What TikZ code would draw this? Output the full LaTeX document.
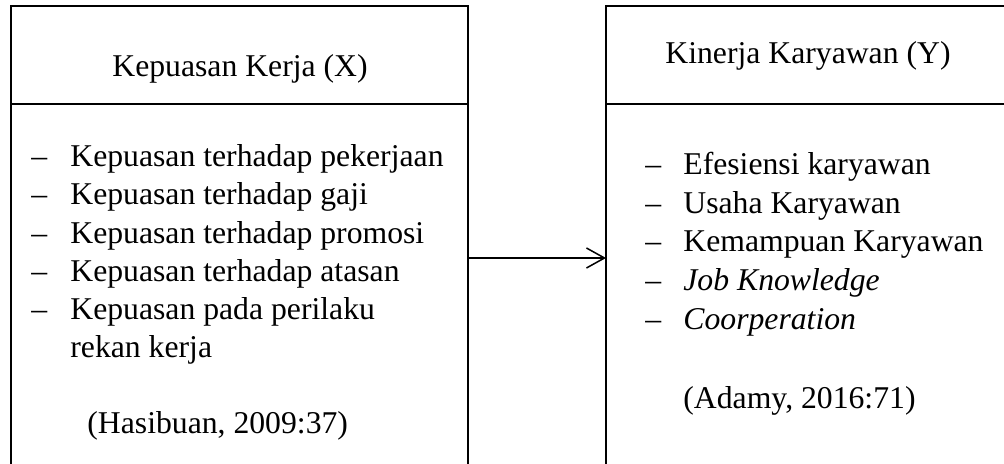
\documentclass[tikz,border=0pt]{standalone}
\usepackage{fontspec}
\setmainfont{Liberation Serif}
\usetikzlibrary{arrows.meta}
\begin{document}
\begin{tikzpicture}[x=0.5pt,y=-0.5pt,
  txt/.style={anchor=base west,inner sep=0pt,font=\fontsize{15.85}{17}\selectfont},
  boxline/.style={line width=0.75pt},
  conn/.style={line width=0.75pt,-{Straight Barb[length=9pt,width=10pt]}}]
\useasboundingbox (0,0) rectangle (1004,464);
% left box
\draw[boxline] (11,464) -- (11,6) -- (468,6) -- (468,464);
\draw[boxline] (11,104) -- (468,104);
% right box
\draw[boxline] (606,464) -- (606,6) -- (1004,6);
\draw[boxline] (606,104) -- (1004,104);
% headings
\node[txt] (hx) at (112,77) {Kepuasan Kerja (X)};
\node[txt] (hy) at (665,64) {Kinerja Karyawan (Y)};
% left items
\foreach \y/\t [count=\i] in {167/Kepuasan terhadap pekerjaan,205/Kepuasan terhadap gaji,243/Kepuasan terhadap promosi,281/Kepuasan terhadap atasan,319/Kepuasan pada perilaku}{
  \node[txt] (ld\i) at (31,\y) {--};
  \node[txt] (lt\i) at (70,\y) {\t};
}
\node[txt] (lt6) at (70,357) {rekan kerja};
\node[txt] (lref) at (87,433) {(Hasibuan, 2009:37)};
% right items
\node[txt] (rd1) at (645,175) {--};
\node[txt] (rt1) at (683,175) {Efesiensi karyawan};
\node[txt] (rd2) at (645,213.5) {--};
\node[txt] (rt2) at (683,213.5) {Usaha Karyawan};
\node[txt] (rd3) at (645,252) {--};
\node[txt] (rt3) at (683,252) {Kemampuan Karyawan};
\node[txt] (rd4) at (645,290.5) {--};
\node[txt] (rt4) at (683,290.5) {\itshape Job Knowledge};
\node[txt] (rd5) at (645,329) {--};
\node[txt] (rt5) at (683,329) {\itshape Coorperation};
\node[txt] (rref) at (683,408) {(Adamy, 2016:71)};
% connector
\coordinate (lE) at (468,258);
\coordinate (rW) at (606,258);
\draw[conn] (lE) -- (rW);
\end{tikzpicture}
\end{document}
